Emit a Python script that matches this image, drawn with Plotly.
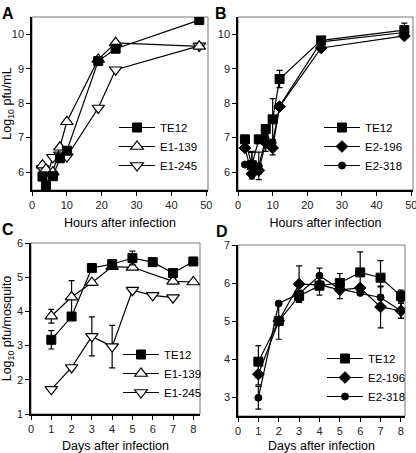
import plotly.graph_objects as go

W, H = 416, 453

# ---------------- Data ----------------
# Panel A (hours after infection, log10 pfu/mL)
a_hours = [3, 4, 6, 8, 10, 19, 24, 48]
a_te12 = [5.87, 5.62, 5.88, 6.40, 6.62, 9.22, 9.58, 10.41]
a_e1_139 = [6.20, 6.08, 6.00, 6.72, 7.46, 9.27, 9.75, 9.65]
a_e1_245 = [6.10, 5.80, 6.43, 6.50, 6.45, 7.86, 8.97, 9.66]

# Panel B
b_hours = [2, 4, 6, 8, 10, 12, 24, 48]
b_te12 = [6.95, 6.20, 6.95, 7.25, 7.53, 8.70, 9.82, 10.12]
b_te12_err = [0.05, 0.40, 0.05, 0.05, 0.60, 0.25, 0.05, 0.20]
b_e2_196 = [6.70, 5.95, 6.05, 6.85, 6.70, 7.90, 9.60, 9.95]
b_e2_196_err = [0.05, 0.10, 0.10, 0.25, 0.20, 0.05, 0.05, 0.05]
b_e2_318 = [6.22, 6.22, 6.18, 6.97, 6.85, 7.92, 9.78, 10.05]
b_e2_318_err = [0.05, 0.35, 0.40, 0.10, 0.10, 0.05, 0.05, 0.05]

# Panel C (days after infection, log10 pfu/mosquito)
c_days_te12 = [1, 2, 3, 4, 5, 6, 7, 8]
c_te12 = [3.17, 3.85, 5.27, 5.38, 5.56, 5.44, 5.12, 5.46]
c_te12_err = [0.27, 0.05, 0.05, 0.08, 0.20, 0.05, 0.05, 0.05]
c_days_e1_139 = [1, 2, 3, 4, 5, 7, 8]
c_e1_139 = [3.86, 4.42, 4.84, 5.31, 5.29, 4.88, 4.86]
c_e1_139_err = [0.20, 0.48, 0.05, 0.05, 0.05, 0.05, 0.05]
c_days_e1_245 = [1, 2, 3, 4, 5, 6, 7]
c_e1_245 = [1.72, 2.36, 3.27, 2.97, 4.62, 4.47, 4.40]
c_e1_245_err = [0.05, 0.05, 0.57, 0.62, 0.05, 0.05, 0.05]

# Panel D
d_days = [1, 2, 3, 4, 5, 6, 7, 8]
d_te12 = [3.93, 5.00, 5.66, 5.93, 6.00, 6.28, 6.14, 5.66]
d_te12_err = [0.42, 0.48, 0.15, 0.25, 0.25, 0.54, 0.45, 0.15]
d_e2_196 = [3.60, 5.00, 5.97, 5.95, 5.82, 5.87, 5.37, 5.27]
d_e2_196_err = [0.28, 0.05, 0.48, 0.05, 0.23, 0.05, 0.55, 0.20]
d_e2_318 = [2.98, 5.46, 5.72, 6.19, 5.84, 5.74, 5.62, 5.27]
d_e2_318_err = [0.30, 0.05, 0.05, 0.20, 0.05, 0.05, 0.28, 0.20]

# ---------------- Layout helpers ----------------
def xdom(l, r):
    return [l / W, r / W]

def ydom(t, b):
    return [1 - b / H, 1 - t / H]

FONT = "Liberation Sans, Arial, sans-serif"

fig = go.Figure()

sq = dict(symbol="square", size=9, color="black", line=dict(color="black", width=1))
tri_up = dict(symbol="triangle-up", size=11, color="white", line=dict(color="black", width=1.2))
tri_dn = dict(symbol="triangle-down", size=11, color="white", line=dict(color="black", width=1.2))
dia = dict(symbol="diamond", size=9, color="black", line=dict(color="black", width=1))
circ = dict(symbol="circle", size=7, color="black", line=dict(color="black", width=1))

def add(x, y, name, marker, xa, ya, leg, err=None, order=0):
    kw = {}
    if err is not None:
        kw["error_y"] = dict(type="data", array=err, visible=True, color="black",
                             thickness=1.2, width=3)
    fig.add_trace(go.Scatter(
        x=x, y=y, name=name, mode="lines+markers",
        line=dict(color="black", width=1.2), marker=marker,
        xaxis=xa, yaxis=ya, legend=leg, legendgroup=leg + name,
        legendrank=order, **kw))

# Panel A
add(a_hours, a_e1_245, "E1-245", tri_dn, "x", "y", "legend", order=3)
add(a_hours, a_e1_139, "E1-139", tri_up, "x", "y", "legend", order=2)
add(a_hours, a_te12, "TE12", sq, "x", "y", "legend", order=1)
# Panel B
add(b_hours, b_e2_318, "E2-318", circ, "x2", "y2", "legend2", b_e2_318_err, order=3)
add(b_hours, b_e2_196, "E2-196", dia, "x2", "y2", "legend2", b_e2_196_err, order=2)
add(b_hours, b_te12, "TE12", sq, "x2", "y2", "legend2", b_te12_err, order=1)
# Panel C
add(c_days_e1_245, c_e1_245, "E1-245", tri_dn, "x3", "y3", "legend3", c_e1_245_err, order=3)
add(c_days_e1_139, c_e1_139, "E1-139", tri_up, "x3", "y3", "legend3", c_e1_139_err, order=2)
add(c_days_te12, c_te12, "TE12", sq, "x3", "y3", "legend3", c_te12_err, order=1)
# Panel D
add(d_days, d_e2_318, "E2-318", circ, "x4", "y4", "legend4", d_e2_318_err, order=3)
add(d_days, d_e2_196, "E2-196", dia, "x4", "y4", "legend4", d_e2_196_err, order=2)
add(d_days, d_te12, "TE12", sq, "x4", "y4", "legend4", d_te12_err, order=1)

axcommon = dict(showline=True, linecolor="black", linewidth=1.5, ticks="outside",
                ticklen=4, tickwidth=1.2, tickcolor="black", showgrid=False,
                zeroline=False, tickfont=dict(family=FONT, size=11, color="#222"),
                mirror=False, automargin=False, ticklabeloverflow="allow")

titlefont = dict(family=FONT, size=12.5, color="black")

layout = dict(
    width=W, height=H, margin=dict(l=0, r=0, t=0, b=0, autoexpand=False),
    paper_bgcolor="white", plot_bgcolor="white",
    font=dict(family=FONT, color="black"),
    xaxis=dict(axcommon, domain=xdom(32, 208), range=[0, 50.5], tickvals=[0, 10, 20, 30, 40, 50],
               anchor="y", title=dict(text="Hours after infection", font=titlefont, standoff=8)),
    yaxis=dict(axcommon, domain=ydom(17, 190), range=[5.48, 10.5], tickvals=[6, 7, 8, 9, 10],
               anchor="x", title=dict(text="Log<sub>10</sub> pfu/mL", font=titlefont, standoff=6)),
    xaxis2=dict(axcommon, domain=xdom(238, 413), range=[0, 50.5], tickvals=[0, 10, 20, 30, 40, 50],
                anchor="y2", title=dict(text="Hours after infection", font=titlefont, standoff=8)),
    yaxis2=dict(axcommon, domain=ydom(17, 190), range=[5.48, 10.5], tickvals=[6, 7, 8, 9, 10],
                anchor="x2"),
    xaxis3=dict(axcommon, domain=xdom(31, 200), range=[0, 8.33], tickvals=list(range(0, 9)),
                anchor="y3", title=dict(text="Days after infection", font=titlefont, standoff=8)),
    yaxis3=dict(axcommon, domain=ydom(243, 414), range=[1, 6], tickvals=[1, 2, 3, 4, 5, 6],
                anchor="x3", title=dict(text="Log<sub>10</sub> pfu/mosquito", font=titlefont, standoff=6)),
    xaxis4=dict(axcommon, domain=xdom(238, 405), range=[0, 8.2], tickvals=list(range(0, 9)),
                anchor="y4", title=dict(text="Days after infection", font=titlefont, standoff=8)),
    yaxis4=dict(axcommon, domain=ydom(245, 416), range=[2.5, 7], tickvals=[3, 4, 5, 6, 7],
                anchor="x4"),
    showlegend=True,
)

def leg(xpx, ypx):
    return dict(x=xpx / W, y=1 - ypx / H, xanchor="left", yanchor="top",
                bgcolor="rgba(0,0,0,0)", borderwidth=0,
                font=dict(family=FONT, size=11.5, color="black"),
                tracegroupgap=5, traceorder="normal", itemwidth=36)

layout["legend"] = leg(114, 113)
layout["legend2"] = leg(319, 113)
layout["legend3"] = leg(118, 340)
layout["legend4"] = leg(322, 344)

fig.update_layout(**layout)

# gray frame (top/right) around each plot area
for xa, ya in [("x", "y"), ("x2", "y2"), ("x3", "y3"), ("x4", "y4")]:
    fig.add_shape(type="rect", xref=f"{xa} domain", yref=f"{ya} domain",
                  x0=0, x1=1, y0=0, y1=1, line=dict(color="#777", width=1), layer="below")

# panel letters
for txt, xp, yp in [("A", 0, 3), ("B", 213, 3), ("C", 0, 219), ("D", 214, 221)]:
    fig.add_annotation(text=f"<b>{txt}</b>", xref="paper", yref="paper",
                       x=xp / W, y=1 - yp / H, xanchor="left", yanchor="top",
                       showarrow=False, font=dict(family=FONT, size=16, color="black"))

fig.write_html("out.html", post_script="document.body.style.margin='0px';",
               config={"displayModeBar": False})
